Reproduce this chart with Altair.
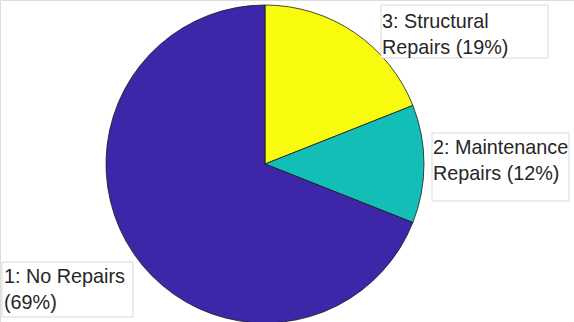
import altair as alt
import pandas as pd

# Data
categories = ["3: Structural Repairs", "2: Maintenance Repairs", "1: No Repairs"]
values = [19, 12, 69]
colors = ["#f9fb0e", "#13beb7", "#3e26a8"]
label_lines = [
    "3: Structural\nRepairs (19%)",
    "2: Maintenance\nRepairs (12%)",
    "1: No Repairs\n(69%)",
]

df = pd.DataFrame({"category": categories, "value": values, "order": [0, 1, 2]})

W, H = 574, 322
CX, CY, R = 265, 164, 159

pie = alt.Chart(df).mark_arc(radius=R, stroke="#1a1a1a", strokeWidth=0.8).encode(
    theta=alt.Theta("value:Q", stack=True),
    order=alt.Order("order:Q"),
    color=alt.Color("category:N", scale=alt.Scale(domain=categories, range=colors), legend=None),
    x=alt.value(CX),
    y=alt.value(CY),
)

# label boxes and texts (annotation positions)
box_pos = [(381, 5, 548, 58), (432, 133, 569, 201), (2, 262, 133, 317)]
text_pos = [(382, 27.5), (433, 154), (4, 283)]

layers = [pie]
for (x0, y0, x1, y1), (tx, ty), txt in zip(box_pos, text_pos, label_lines):
    box = alt.Chart(pd.DataFrame({"t": [txt]})).mark_rect(
        fill="white", stroke="#d9d9d9", strokeWidth=1
    ).encode(x=alt.value(x0), x2=alt.value(x1), y=alt.value(y0), y2=alt.value(y1))
    text = alt.Chart(pd.DataFrame({"t": [txt]})).mark_text(
        align="left", baseline="alphabetic", lineBreak="\n", fontSize=19.8,
        lineHeight=26, font="Liberation Sans", color="#262626"
    ).encode(text="t:N", x=alt.value(tx), y=alt.value(ty))
    layers += [box, text]

chart = alt.layer(*layers).properties(
    width=W, height=H, padding=0, autosize=alt.AutoSizeParams(type="none")
).configure_view(stroke=None).configure(background="white")

chart.save("out.html", embed_options={"renderer": "svg", "actions": False})
